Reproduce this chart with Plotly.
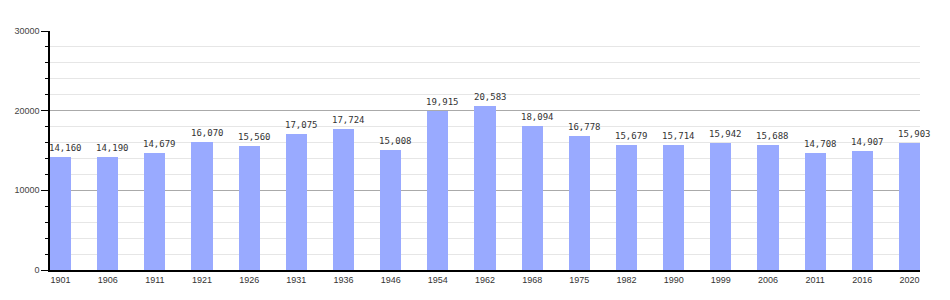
import plotly.graph_objects as go

years = ["1901", "1906", "1911", "1921", "1926", "1931", "1936", "1946", "1954", "1962",
         "1968", "1975", "1982", "1990", "1999", "2006", "2011", "2016", "2020"]
population = [14160, 14190, 14679, 16070, 15560, 17075, 17724, 15008, 19915, 20583,
              18094, 16778, 15679, 15714, 15942, 15688, 14708, 14907, 15903]
y_ticks = [0, 10000, 20000, 30000]

xpos = list(range(len(years)))

fig = go.Figure(go.Bar(
    x=xpos, y=population, width=0.446,
    marker=dict(color="#99aaff", line=dict(width=0)),
    hoverinfo="skip",
))

for xi, v in zip(xpos, population):
    fig.add_annotation(
        x=xi, y=v, text=f"{v:,}", showarrow=False,
        xanchor="center", yanchor="bottom", xshift=5, yshift=2,
        font=dict(family="DejaVu Sans Mono", size=9, color="#333"),
    )

fig.update_layout(
    width=950, height=300,
    margin=dict(l=50, r=30, t=31, b=30),
    paper_bgcolor="white", plot_bgcolor="white",
    showlegend=False,
    bargap=0,
    xaxis=dict(
        range=[-0.223, len(years) - 1 + 0.223],
        tickvals=xpos, ticktext=years,
        showgrid=False, zeroline=False,
        showline=True, linecolor="black", linewidth=1.5,
        ticks="", tickfont=dict(family="Liberation Sans", size=9, color="#333"),
    ),
    yaxis=dict(
        range=[0, 30000], tickvals=y_ticks, ticktext=[str(v) for v in y_ticks],
        showgrid=True, gridcolor="#aaaaaa", gridwidth=1, zeroline=False,
        showline=True, linecolor="black", linewidth=1.5,
        ticks="outside", ticklen=7, tickcolor="black",
        tickfont=dict(family="Liberation Sans", size=9, color="#444"),
        minor=dict(dtick=2000, showgrid=True, gridcolor="#e6e6e6", gridwidth=1,
                   ticks="outside", ticklen=3, tickcolor="black"),
    ),
)
fig.write_html("out.html")
